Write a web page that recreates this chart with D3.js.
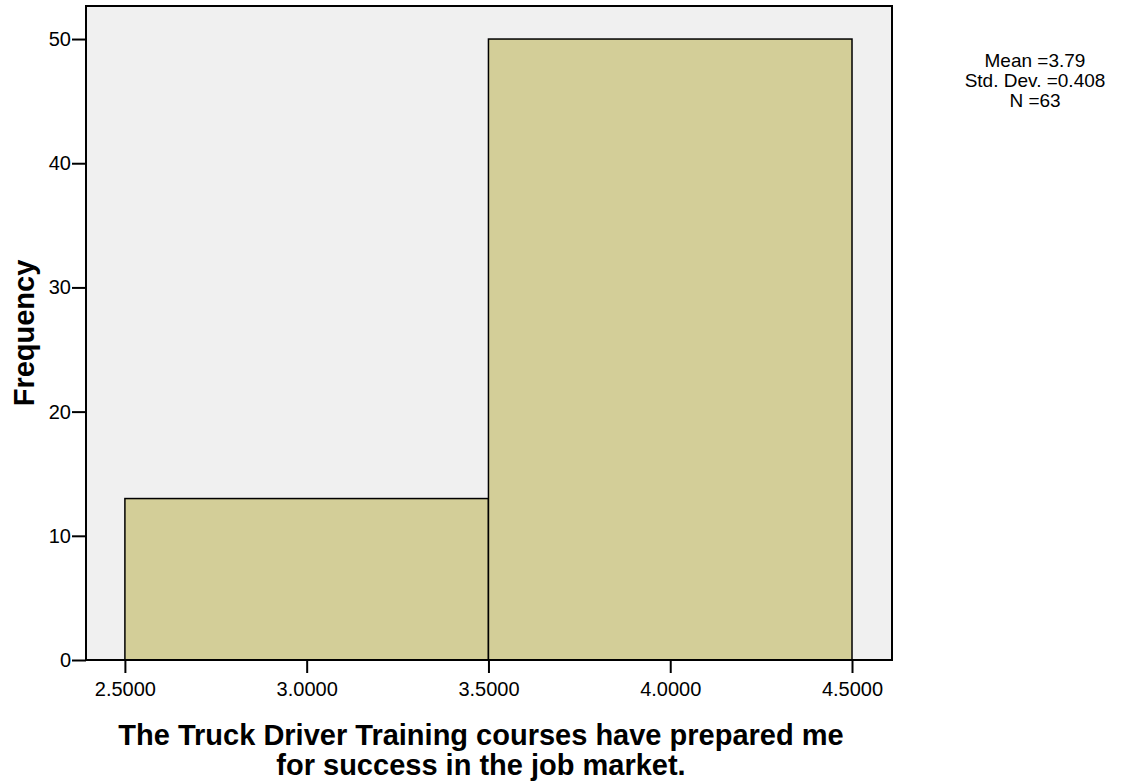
<!DOCTYPE html>
<html><head><meta charset="utf-8">
<script src="https://cdn.jsdelivr.net/npm/d3@7"></script>
<style>body{margin:0;background:#fff;} text{font-family:"Liberation Sans",Arial,sans-serif;}</style>
</head><body>
<svg id="c" width="1122" height="784"></svg>
<script>
const binStarts = [2.5, 3.5];
const binEnds = [3.5, 4.5];
const frequencies = [13, 50];
const xTicks = [2.5, 3.0, 3.5, 4.0, 4.5];
const yTicks = [0, 10, 20, 30, 40, 50];
const statLines = ["Mean =3.79", "Std. Dev. =0.408", "N =63"];
const xTitle = ["The Truck Driver Training courses have prepared me", "for success in the job market."];
const yTitle = "Frequency";

const svg = d3.select("#c");
const L = 86, R = 892, T = 6, B = 660;
const x = d3.scaleLinear().domain([2.393, 4.61]).range([L, R]);
const y = d3.scaleLinear().domain([0, 52.66]).range([B, T]);

svg.append("rect").attr("x", L).attr("y", T).attr("width", R - L).attr("height", B - T)
  .attr("fill", "#f0f0f0");

svg.selectAll("rect.bar").data(frequencies).enter().append("rect").attr("class", "bar")
  .attr("x", (d, i) => x(binStarts[i]))
  .attr("y", d => y(d))
  .attr("width", (d, i) => x(binEnds[i]) - x(binStarts[i]))
  .attr("height", d => B - y(d))
  .attr("fill", "#d3ce98").attr("stroke", "#000").attr("stroke-width", 1.5);

svg.append("rect").attr("x", L).attr("y", T).attr("width", R - L).attr("height", B - T)
  .attr("fill", "none").attr("stroke", "#000").attr("stroke-width", 2);

const yAxis = svg.append("g").attr("transform", `translate(${L},0)`)
  .call(d3.axisLeft(y).tickValues(yTicks).tickSize(14).tickPadding(1).tickFormat(d3.format("d")));
yAxis.select(".domain").remove();
yAxis.selectAll("line").attr("stroke", "#000").attr("stroke-width", 2);
yAxis.selectAll("text").attr("font-size", 20).attr("fill", "#000").attr("font-family", "Liberation Sans, Arial, sans-serif");

const xAxis = svg.append("g").attr("transform", `translate(0,${B})`)
  .call(d3.axisBottom(x).tickValues(xTicks).tickSize(13).tickPadding(9).tickFormat(d3.format(".4f")));
xAxis.select(".domain").remove();
xAxis.selectAll("line").attr("stroke", "#000").attr("stroke-width", 2);
xAxis.selectAll("text").attr("font-size", 20).attr("fill", "#000").attr("font-family", "Liberation Sans, Arial, sans-serif");

svg.selectAll("text.stat").data(statLines).enter().append("text").attr("class", "stat")
  .attr("x", 1035).attr("y", (d, i) => 67 + i * 20)
  .attr("text-anchor", "middle").attr("font-size", 19).attr("fill", "#000").text(d => d);

svg.selectAll("text.xt").data(xTitle).enter().append("text").attr("class", "xt")
  .attr("x", 481).attr("y", (d, i) => 745 + i * 30)
  .attr("text-anchor", "middle").attr("font-size", 29).attr("font-weight", "bold").attr("fill", "#000").text(d => d);

svg.append("text").attr("transform", "translate(34,333) rotate(-90)")
  .attr("text-anchor", "middle").attr("font-size", 29).attr("font-weight", "bold").attr("fill", "#000").text(yTitle);
</script>
</body></html>
